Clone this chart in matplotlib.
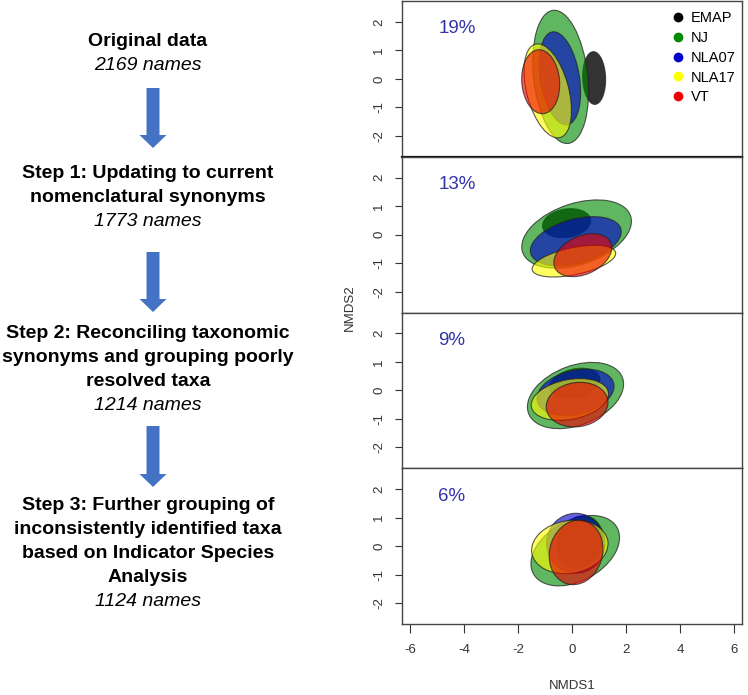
import matplotlib.pyplot as plt
from matplotlib.patches import Ellipse, FancyArrow
from matplotlib.lines import Line2D

plt.rcParams['font.family'] = ['Liberation Sans', 'DejaVu Sans']

# flowchart (left side)
step_titles = [["Original data"],
               ["Step 1: Updating to current", "nomenclatural synonyms"],
               ["Step 2: Reconciling taxonomic", "synonyms and grouping poorly", "resolved taxa"],
               ["Step 3: Further grouping of", "inconsistently identified taxa",
                "based on Indicator Species", "Analysis"]]
step_counts = [2169, 1773, 1214, 1124]

# NMDS ellipses, one panel per step (order: EMAP, NJ, NLA07, NLA17, VT)
groups = ["EMAP", "NJ", "NLA07", "NLA17", "VT"]
group_colors = ["#000000", "#008b00", "#0000cd", "#ffff00", "#ee0000"]
group_alpha = [0.8, 0.62, 0.62, 0.62, 0.62]
pct_labels = ["19%", "13%", "9%", "6%"]

cx = [[0.82, -0.42, -0.45, -0.90, -1.16],
      [-0.20, 0.17, 0.14, 0.07, 0.40],
      [0.10, 0.13, 0.13, -0.08, 0.19],
      [0.30, 0.12, 0.14, -0.08, 0.15]]
cy = [[0.03, 0.07, 0.02, -0.42, -0.10],
      [0.40, 0.02, -0.23, -0.93, -0.72],
      [0.25, -0.18, -0.07, -0.32, -0.50],
      [0.15, -0.16, 0.10, -0.03, -0.22]]
major = [[1.85, 4.70, 3.30, 3.40, 2.25],
         [1.80, 4.20, 3.45, 3.15, 2.25],
         [1.90, 3.70, 2.90, 2.90, 2.30],
         [1.90, 3.50, 2.16, 2.85, 2.30]]
minor = [[0.85, 2.00, 1.45, 1.55, 1.40],
         [1.00, 2.15, 1.55, 0.95, 1.35],
         [1.00, 2.10, 1.55, 1.40, 1.55],
         [1.60, 2.15, 2.10, 1.85, 1.95]]
angle = [[92, 97, 100, 106, 95],
         [8, 17, 14, 11, 22],
         [12, 19, 12, 10, 7],
         [60, 26, 0, 8, 70]]

W, H = 748, 695
fig = plt.figure(figsize=(W / 100, H / 100), dpi=100)

# left: text + arrows, drawn in pixel coords
ax0 = fig.add_axes([0, 0, 1, 1])
ax0.set_xlim(0, W)
ax0.set_ylim(H, 0)
ax0.axis('off')
title_y = [42, 174, 333, 506]
arrow_y = [(88, 148), (252, 312), (426, 487)]
for i in range(4):
    y = title_y[i]
    for line in step_titles[i]:
        ax0.text(148, y, line, ha='center', va='center', fontsize=14, fontweight='bold')
        y += 24
    ax0.text(148, y, "%d names" % step_counts[i], ha='center', va='center',
             fontsize=14, style='italic')
for y0, y1 in arrow_y:
    ax0.add_patch(FancyArrow(153, y0, 0, y1 - y0, width=13, head_width=27, head_length=13,
                             length_includes_head=True, color='#4472c4', lw=0))

# right: four stacked NMDS panels
left, right = 402 / W, 742 / W
ph = 155.75
axes = []
for i in range(4):
    top = 1 - (1 + i * ph) / H
    ax = fig.add_axes([left, top - ph / H, right - left, ph / H])
    for j in range(len(groups)):
        ax.add_patch(Ellipse((cx[i][j], cy[i][j]), major[i][j], minor[i][j], angle=angle[i][j],
                             facecolor=group_colors[j], alpha=group_alpha[j], edgecolor='none'))
        ax.add_patch(Ellipse((cx[i][j], cy[i][j]), major[i][j], minor[i][j], angle=angle[i][j],
                             facecolor='none', edgecolor='#222222', lw=0.8, alpha=0.75))
    ax.text(-4.95, 1.75, pct_labels[i], ha='left', va='center', fontsize=13.5, color='#3333aa')
    ax.set_xlim(-6.3, 6.3)
    ax.set_ylim(-2.73, 2.73)
    ax.set_yticks([-2, -1, 0, 1, 2])
    ax.set_yticklabels(['-2', '-1', '0', '1', '2'], rotation=90, va='center')
    ax.tick_params(axis='y', length=5, pad=7, labelsize=9.5, colors='#333333')
    for s in ax.spines.values():
        s.set_color('#444444')
        s.set_linewidth(1)
    if i < 3:
        ax.set_xticks([])
    else:
        ax.set_xticks([-6, -4, -2, 0, 2, 4, 6])
        ax.set_xticklabels(['-6', '-4', '-2', '0', '2', '4', '6'])
        ax.tick_params(axis='x', length=6.5, pad=8, labelsize=9.5, colors='#333333')
    axes.append(ax)
axes[0].spines['bottom'].set_color('#111111')
axes[0].spines['bottom'].set_linewidth(1.6)

handles = [Line2D([], [], ls='none', marker='o', ms=6, color=c) for c in group_colors]
axes[0].legend(handles, groups, loc='upper left', bbox_to_anchor=(0.752, 1.02), frameon=False,
               fontsize=10.5, handlelength=1, handletextpad=0.4, labelspacing=0.4,
               borderpad=0.4)

fig.text(572 / W, 1 - 686 / H, 'NMDS1', ha='center', va='center', fontsize=9.5, color='#333333')
fig.text(350 / W, 1 - 308 / H, 'NMDS2', ha='center', va='center', fontsize=9.5,
         color='#333333', rotation=90)

plt.savefig('out.png', dpi=100)
